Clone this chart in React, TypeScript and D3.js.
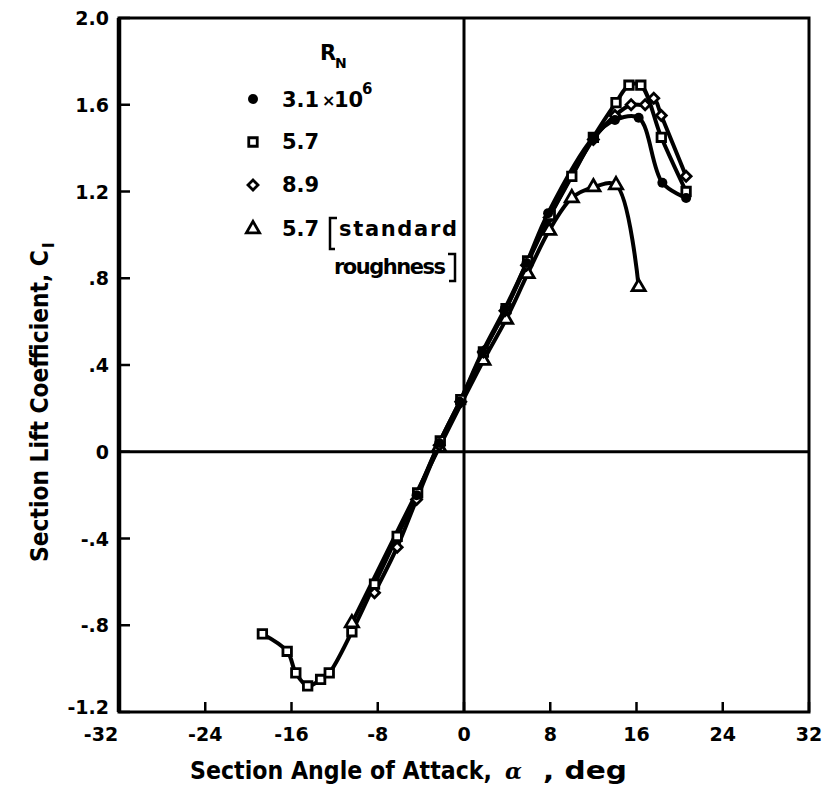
import React, { useEffect, useRef } from "react";
import * as d3 from "d3";

// angle of attack (deg), section lift coefficient
const rn31: [number, number][] = [
  [-4.4, -0.2], [-2.3, 0.04], [-0.4, 0.23], [1.7, 0.46], [3.8, 0.66], [5.8, 0.87],
  [7.8, 1.1], [12, 1.45], [14, 1.53], [16.2, 1.54], [18.4, 1.24], [20.6, 1.17],
];
const rn57: [number, number][] = [
  [-18.7, -0.84], [-16.4, -0.92], [-15.6, -1.02], [-14.5, -1.08], [-13.3, -1.05],
  [-12.5, -1.02], [-10.4, -0.83], [-8.3, -0.61], [-6.2, -0.39], [-4.3, -0.19],
  [-2.2, 0.05], [-0.3, 0.24], [1.8, 0.46], [3.9, 0.66], [5.9, 0.88], [8, 1.09],
  [10, 1.27], [12, 1.45], [14.1, 1.61], [15.3, 1.69], [16.4, 1.69], [18.3, 1.45], [20.6, 1.2],
];
const rn89: [number, number][] = [
  [-8.3, -0.65], [-6.2, -0.44], [-4.4, -0.22], [-2.3, 0.03], [-0.3, 0.23], [1.8, 0.46],
  [3.8, 0.65], [5.8, 0.86], [7.9, 1.08], [12, 1.44], [14, 1.55], [15.5, 1.6],
  [16.8, 1.6], [17.6, 1.63], [18.3, 1.55], [20.6, 1.27],
];
const rn57rough: [number, number][] = [
  [-10.4, -0.79], [-2.3, 0.02], [1.8, 0.42], [3.9, 0.61], [5.9, 0.82], [7.9, 1.02],
  [10, 1.17], [12, 1.22], [14.1, 1.23], [16.2, 0.76],
];

const xTicks = [-32, -24, -16, -8, 0, 8, 16, 24, 32];
const xTickLabels = ["-32", "-24", "-16", "-8", "0", "8", "16", "24", "32"];
const yTicks = [2.0, 1.6, 1.2, 0.8, 0.4, 0, -0.4, -0.8, -1.2];
const yTickLabels = ["2.0", "1.6", "1.2", ".8", ".4", "0", "-.4", "-.8", "-1.2"];

const font = "'DejaVu Sans', sans-serif";

export default function App() {
  const ref = useRef<SVGSVGElement>(null);

  useEffect(() => {
    const svg = d3.select(ref.current);
    svg.selectAll("*").remove();

    const x = d3.scaleLinear().domain([-32, 32]).range([119, 809]);
    const y = d3.scaleLinear().domain([-1.2, 2.0]).range([712, 18]);

    const g = svg.append("g");

    // zero lines
    g.append("line").attr("x1", x(-32)).attr("x2", x(32)).attr("y1", y(0)).attr("y2", y(0))
      .attr("stroke", "#000").attr("stroke-width", 3);
    g.append("line").attr("x1", x(0)).attr("x2", x(0)).attr("y1", y(2)).attr("y2", y(-1.2))
      .attr("stroke", "#000").attr("stroke-width", 3);

    // frame
    g.append("rect").attr("x", x(-32)).attr("y", y(2)).attr("width", x(32) - x(-32))
      .attr("height", y(-1.2) - y(2)).attr("fill", "none").attr("stroke", "#000").attr("stroke-width", 3);
    g.append("line").attr("x1", x(-32)).attr("x2", x(-32)).attr("y1", y(2)).attr("y2", y(-1.2))
      .attr("stroke", "#000").attr("stroke-width", 4.5);

    // ticks
    g.selectAll(".xt").data(xTicks).enter().append("line")
      .attr("x1", (d) => x(d)).attr("x2", (d) => x(d))
      .attr("y1", y(-1.2)).attr("y2", y(-1.2) - 10)
      .attr("stroke", "#000").attr("stroke-width", 2.5);
    g.selectAll(".yt").data(yTicks).enter().append("line")
      .attr("x1", x(-32)).attr("x2", x(-32) + 11)
      .attr("y1", (d) => y(d)).attr("y2", (d) => y(d))
      .attr("stroke", "#000").attr("stroke-width", 2.5);

    // tick labels
    g.selectAll(".xl").data(xTicks).enter().append("text")
      .attr("x", (d, i) => x(d) + (i === 0 ? -18 : 0)).attr("y", 741)
      .attr("text-anchor", "middle").attr("font-family", font).attr("font-weight", "bold")
      .attr("font-size", 19).text((d, i) => xTickLabels[i]);
    g.selectAll(".yl").data(yTicks).enter().append("text")
      .attr("x", 109).attr("y", (d) => y(d) + (d === -1.2 ? 2 : 7))
      .attr("text-anchor", "end").attr("font-family", font).attr("font-weight", "bold")
      .attr("font-size", 19).text((d, i) => yTickLabels[i]);

    // axis titles: narrow, tall lettering squeezed to a set width
    const squeezed = (parent: any, tx: number, ty: number, len: number, s: string, rot = 0) => {
      const t = parent.append("text").attr("font-family", font)
        .attr("font-weight", "bold").attr("font-size", 25).text(s);
      const natural = (t.node() as SVGTextElement).getComputedTextLength() || len;
      t.attr("transform", `translate(${tx},${ty}) rotate(${rot}) scale(${len / natural},1)`);
      return t;
    };
    squeezed(g, 190, 779, 302, "Section Angle of Attack,");
    g.append("text").attr("x", 505).attr("y", 779).attr("font-family", "'DejaVu Serif', serif")
      .attr("font-style", "italic").attr("font-weight", "bold").attr("font-size", 22).text("α");
    squeezed(g, 543, 779, 84, ", deg");

    squeezed(g, 48, 562, 312, "Section Lift Coefficient, C", -90);
    g.append("text").attr("transform", "translate(54,248) rotate(-90)").attr("font-family", font)
      .attr("font-weight", "bold").attr("font-size", 16).text("l");

    // curves
    const line = d3.line<[number, number]>()
      .x((d) => x(d[0])).y((d) => y(d[1]))
      .curve(d3.curveCatmullRom.alpha(0.5));
    [rn57, rn89, rn31, rn57rough].forEach((s) => {
      g.append("path").attr("d", line(s)).attr("fill", "none")
        .attr("stroke", "#000").attr("stroke-width", 4).attr("stroke-linejoin", "round");
    });

    // markers
    const mark = (sel: any, type: string, px: number, py: number) => {
      if (type === "circle") {
        sel.append("circle").attr("cx", px).attr("cy", py).attr("r", 5).attr("fill", "#000");
      } else {
        const sym = type === "triangle" ? d3.symbolTriangle : d3.symbolSquare;
        const size = type === "square" ? 72 : type === "diamond" ? 50 : 75;
        const rot = type === "diamond" ? " rotate(45)" : "";
        sel.append("path").attr("d", d3.symbol().type(sym).size(size)())
          .attr("transform", `translate(${px},${py})${rot}`)
          .attr("fill", "#fff").attr("stroke", "#000").attr("stroke-width", 2.8);
      }
    };
    rn57rough.forEach((d) => mark(g, "triangle", x(d[0]), y(d[1])));
    rn89.forEach((d) => mark(g, "diamond", x(d[0]), y(d[1])));
    rn57.forEach((d) => mark(g, "square", x(d[0]), y(d[1])));
    rn31.forEach((d) => mark(g, "circle", x(d[0]), y(d[1])));

    // legend
    const lt = (tx: number, ty: number, s: string, size = 21, len?: number) => {
      const t = g.append("text").attr("x", tx).attr("y", ty).attr("font-family", font)
        .attr("font-weight", "bold").attr("font-size", size).text(s);
      if (len) t.attr("textLength", len).attr("lengthAdjust", "spacing");
      return t;
    };
    lt(320, 60, "R", 21);
    lt(335, 68, "N", 14);
    mark(g, "circle", 253, 99);
    lt(282, 107, "3.1");
    lt(322, 106, "×", 16);
    lt(334, 107, "10");
    lt(362, 94, "6", 15);
    mark(g, "square", 253, 142);
    lt(282, 149, "5.7");
    mark(g, "diamond", 253, 185);
    lt(282, 192, "8.9");
    mark(g, "triangle", 253, 229);
    lt(282, 236, "5.7");
    lt(339, 236, "standard", 21, 118);
    lt(334, 274, "roughness", 21, 112);
    g.append("path").attr("d", "M337,218 H330 V249 H335").attr("fill", "none")
      .attr("stroke", "#000").attr("stroke-width", 2.5);
    g.append("path").attr("d", "M448,254 H455 V281 H449").attr("fill", "none")
      .attr("stroke", "#000").attr("stroke-width", 2.5);
  }, []);

  return (
    <svg ref={ref} width={830} height={806}
      style={{ position: "absolute", left: 0, top: 0, background: "#fff" }} />
  );
}
